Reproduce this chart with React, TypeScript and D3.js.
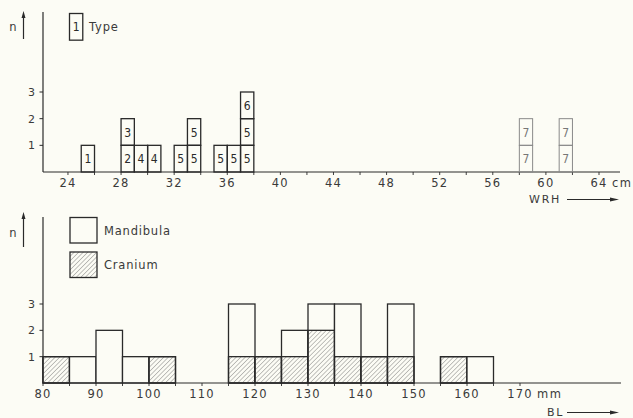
import React from "react";
import * as d3 from "d3";

// ---- Top panel data (WRH, cm) ----
const typeBinStart = [25, 28, 28, 29, 30, 32, 33, 33, 35, 36, 37, 37, 37, 58, 58, 61, 61];
const typeLabel = ["1", "2", "3", "4", "4", "5", "5", "5", "5", "5", "5", "5", "6", "7", "7", "7", "7"];
const topTicks = d3.range(24, 65, 2);
const topTickLabels = [24, 28, 32, 36, 40, 44, 48, 52, 56, 60, 64];
const yTicks = [1, 2, 3];

// ---- Bottom panel data (BL, mm) ----
const binStart = [80, 85, 90, 95, 100, 105, 110, 115, 120, 125, 130, 135, 140, 145, 150, 155, 160];
const cranium = [1, 0, 0, 0, 1, 0, 0, 1, 1, 1, 2, 1, 1, 1, 0, 1, 0];
const mandibula = [0, 1, 2, 1, 0, 0, 0, 2, 0, 1, 1, 2, 0, 2, 0, 0, 1];
const botTickLabels = [80, 90, 100, 110, 120, 130, 140, 150, 160, 170];
const botTicks = d3.range(80, 171, 5);

const INK = "#2a2a2a";
const TXT = "#3a3a3a";
const FONT = "'DejaVu Sans', sans-serif";
const COND = "'DejaVu Sans Condensed', 'DejaVu Sans', sans-serif";

export default function App() {
  const W = 633, H = 418;
  const xT = d3.scaleLinear().domain([22.12, 64]).range([43, 599]);
  const yT = d3.scaleLinear().domain([0, 3]).range([172, 92]);
  const xB = d3.scaleLinear().domain([80, 170]).range([43, 520]);
  const yB = d3.scaleLinear().domain([0, 3]).range([383, 304]);

  const levelCount: Record<number, number> = {};
  const typeBoxes = typeBinStart.map((s, i) => {
    const lvl = levelCount[s] || 0;
    levelCount[s] = lvl + 1;
    return { s, lvl, label: typeLabel[i], gray: typeLabel[i] === "7" };
  });

  const unitW = xT(23) - xT(22);
  const unitH = yT(0) - yT(1);

  return (
    <svg width={W} height={H} style={{ position: "absolute", left: 0, top: 0, background: "#fcfcf5" }}>
      <defs>
        <pattern id="hatch" patternUnits="userSpaceOnUse" width={3.2} height={3.2} patternTransform="rotate(45)">
          <line x1={0} y1={0} x2={0} y2={3.2} stroke="#555" strokeWidth={0.7} />
        </pattern>
      </defs>
      <rect x={0} y={0} width={W} height={H} fill="#fcfcf5" />

      {/* ===== TOP PANEL ===== */}
      <g>
        <text x={13} y={31} fontFamily={FONT} fontSize={11.5} fill={TXT} textAnchor="middle">n</text>
        <line x1={23.5} y1={16} x2={23.5} y2={39} stroke={INK} strokeWidth={1.2} />
        <path d="M23.5,11 L21.5,18 L25.5,18 Z" fill={INK} />
        <line x1={43} y1={12} x2={43} y2={yT(0)} stroke={INK} strokeWidth={1.2} />
        {yTicks.map((t) => (
          <g key={t}>
            <line x1={39.5} x2={43} y1={yT(t)} y2={yT(t)} stroke={INK} strokeWidth={1} />
            <text x={35} y={yT(t) + 4} fontFamily={FONT} fontSize={11} fill={TXT} textAnchor="end">{t}</text>
          </g>
        ))}
        <line x1={43} x2={620} y1={yT(0)} y2={yT(0)} stroke={INK} strokeWidth={1.2} />
        {topTicks.map((t) => (
          <line key={t} x1={xT(t)} x2={xT(t)} y1={yT(0)} y2={yT(0) + 3} stroke={INK} strokeWidth={0.9} />
        ))}
        {topTickLabels.map((t) => (
          <text key={t} x={xT(t)} y={187} fontFamily={FONT} fontSize={11.5} fill={TXT} textAnchor="middle" letterSpacing={1.2}>{t}</text>
        ))}
        <text x={612} y={187} fontFamily={FONT} fontSize={11.5} fill={TXT} letterSpacing={1.5}>cm</text>
        <text x={529} y={203} fontFamily={FONT} fontSize={11} fill={TXT} letterSpacing={1.8}>WRH</text>
        <line x1={567} x2={614} y1={199.5} y2={199.5} stroke={INK} strokeWidth={1.1} />
        <path d="M619,199.5 L610,197.5 L610,201.5 Z" fill={INK} />

        {typeBoxes.map((b, i) => (
          <g key={i}>
            <rect x={xT(b.s)} y={yT(b.lvl + 1)} width={xT(b.s + 1) - xT(b.s)} height={yT(b.lvl) - yT(b.lvl + 1)}
              fill="none" stroke={b.gray ? "#8a8a8a" : INK} strokeWidth={b.gray ? 1 : 1.3} />
            <text x={(xT(b.s) + xT(b.s + 1)) / 2} y={(yT(b.lvl) + yT(b.lvl + 1)) / 2 + 4.5}
              fontFamily={COND} fontSize={12} fill={b.gray ? "#777" : INK} textAnchor="middle">{b.label}</text>
          </g>
        ))}

        <rect x={69.5} y={13.5} width={unitW} height={unitH} fill="none" stroke={INK} strokeWidth={1.3} />
        <text x={69.5 + unitW / 2} y={13.5 + unitH / 2 + 4.5} fontFamily={COND} fontSize={12} fill={INK} textAnchor="middle">1</text>
        <text x={89} y={31} fontFamily={FONT} fontSize={11.5} fill={TXT} letterSpacing={0.8}>Type</text>
      </g>

      {/* ===== BOTTOM PANEL ===== */}
      <g>
        <text x={13} y={237} fontFamily={FONT} fontSize={11.5} fill={TXT} textAnchor="middle">n</text>
        <line x1={23.5} y1={218} x2={23.5} y2={247} stroke={INK} strokeWidth={1.2} />
        <path d="M23.5,212 L21.5,219 L25.5,219 Z" fill={INK} />
        <line x1={43} y1={217} x2={43} y2={yB(0)} stroke={INK} strokeWidth={1.2} />
        {yTicks.map((t) => (
          <g key={t}>
            <line x1={39.5} x2={43} y1={yB(t)} y2={yB(t)} stroke={INK} strokeWidth={1} />
            <text x={35} y={yB(t) + 4} fontFamily={FONT} fontSize={11} fill={TXT} textAnchor="end">{t}</text>
          </g>
        ))}

        {binStart.map((s, i) => {
          const total = cranium[i] + mandibula[i];
          if (total === 0) return null;
          const x0 = xB(s), x1 = xB(s + 5);
          return (
            <g key={s}>
              <rect x={x0} y={yB(total)} width={x1 - x0} height={yB(0) - yB(total)} fill="#fcfcf5" stroke={INK} strokeWidth={1.3} />
              {cranium[i] > 0 && (
                <rect x={x0} y={yB(cranium[i])} width={x1 - x0} height={yB(0) - yB(cranium[i])} fill="url(#hatch)" stroke={INK} strokeWidth={1.3} />
              )}
            </g>
          );
        })}

        <line x1={43} x2={621} y1={yB(0)} y2={yB(0)} stroke={INK} strokeWidth={1.2} />
        {botTicks.map((t) => (
          <line key={t} x1={xB(t)} x2={xB(t)} y1={yB(0)} y2={yB(0) + 3} stroke={INK} strokeWidth={0.9} />
        ))}
        {botTickLabels.map((t) => (
          <text key={t} x={xB(t)} y={398} fontFamily={FONT} fontSize={11.5} fill={TXT} textAnchor="middle" letterSpacing={1.2}>{t}</text>
        ))}
        <text x={537} y={398} fontFamily={FONT} fontSize={11.5} fill={TXT} letterSpacing={1.5}>mm</text>
        <text x={547} y={416} fontFamily={FONT} fontSize={11} fill={TXT} letterSpacing={1.8}>BL</text>
        <line x1={567} x2={613} y1={412.5} y2={412.5} stroke={INK} strokeWidth={1.1} />
        <path d="M619,412.5 L610,410.5 L610,414.5 Z" fill={INK} />

        <rect x={70} y={217.5} width={27} height={25.5} fill="none" stroke={INK} strokeWidth={1.3} />
        <text x={104} y={235} fontFamily={FONT} fontSize={11.5} fill={TXT} letterSpacing={0.8}>Mandibula</text>
        <rect x={70} y={252} width={27} height={25.5} fill="url(#hatch)" stroke={INK} strokeWidth={1.3} />
        <text x={104} y={269} fontFamily={FONT} fontSize={11.5} fill={TXT} letterSpacing={0.8}>Cranium</text>
      </g>
    </svg>
  );
}
